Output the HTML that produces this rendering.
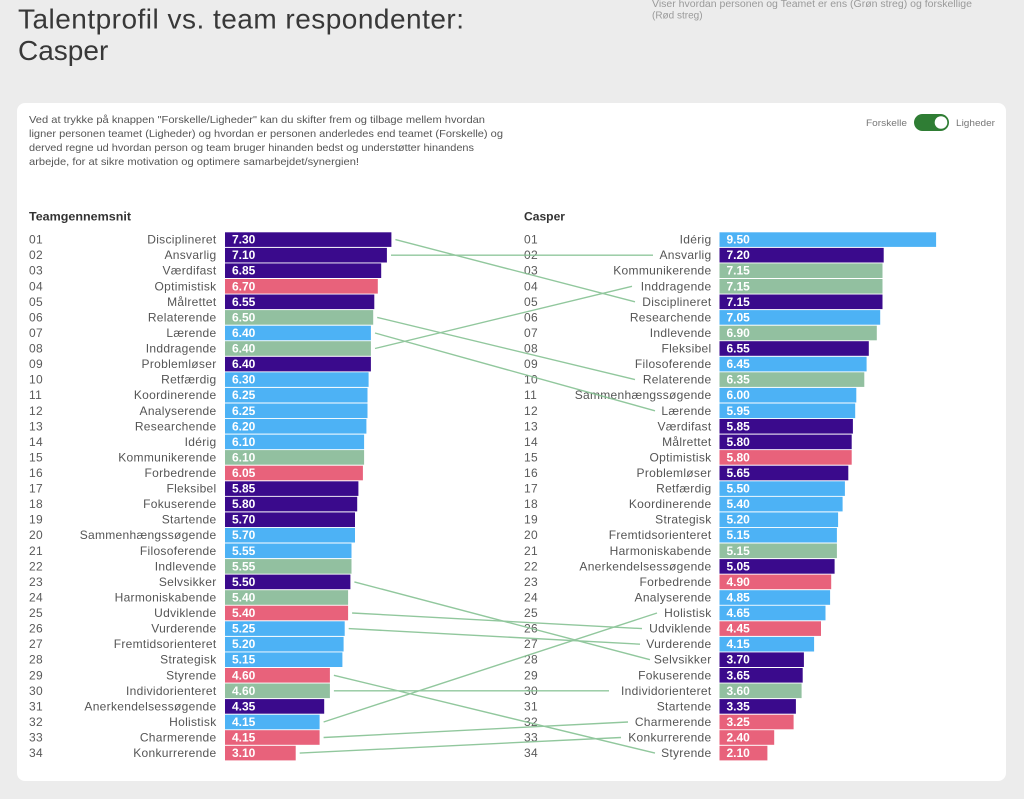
<!DOCTYPE html>
<html><head><meta charset="utf-8"><style>
html,body{margin:0;padding:0;background:#ececec;}
svg{display:block;}
text{font-family:"Liberation Sans","DejaVu Sans",sans-serif;}
.n{font-size:12px;fill:#5a5a5a;letter-spacing:0.3px;}
.l{font-size:12px;fill:#555;text-anchor:end;letter-spacing:0.3px;}
.v{font-size:12px;fill:#fff;font-weight:bold;}
.p{fill:#3a0a8c;}
.r{fill:#e8627b;}
.g{fill:#92c0a0;}
.b{fill:#4db2f5;}
.ln{stroke:#86c293;stroke-width:1.4;fill:none;opacity:0.9;}
</style></head><body>
<svg width="1024" height="799" viewBox="0 0 1024 799" xmlns="http://www.w3.org/2000/svg">
<rect x="0" y="0" width="1024" height="799" fill="#ececec"/>
<text x="18" y="28.5" font-size="28" fill="#383838" textLength="446" lengthAdjust="spacing">Talentprofil vs. team respondenter:</text>
<text x="18" y="60" font-size="28" fill="#383838">Casper</text>
<text x="652" y="7" font-size="10" fill="#9a9a9a" textLength="320" lengthAdjust="spacingAndGlyphs">Viser hvordan personen og Teamet er ens (Grøn streg) og forskellige</text>
<text x="652" y="18.5" font-size="10" fill="#9a9a9a">(Rød streg)</text>
<rect x="17" y="103" width="989" height="678" rx="8" fill="#fff"/>
<g font-size="10.5" fill="#555">
<text x="29" y="123" textLength="456" lengthAdjust="spacingAndGlyphs">Ved at trykke på knappen "Forskelle/Ligheder" kan du skifter frem og tilbage mellem hvordan</text>
<text x="29" y="137" textLength="474" lengthAdjust="spacingAndGlyphs">ligner personen teamet (Ligheder) og hvordan er personen anderledes end teamet (Forskelle) og</text>
<text x="29" y="151" textLength="445" lengthAdjust="spacingAndGlyphs">derved regne ud hvordan person og team bruger hinanden bedst og understøtter hinandens</text>
<text x="29" y="165" textLength="330" lengthAdjust="spacingAndGlyphs">arbejde, for at sikre motivation og optimere samarbejdet/synergien!</text>
</g>
<text x="866" y="126" font-size="9.5" fill="#777" textLength="41" lengthAdjust="spacingAndGlyphs">Forskelle</text>
<rect x="914" y="114" width="35" height="17" rx="8.5" fill="#2f7d34"/>
<circle cx="941" cy="122.5" r="6.3" fill="#fff"/>
<text x="956" y="126" font-size="9.5" fill="#777" textLength="39" lengthAdjust="spacingAndGlyphs">Ligheder</text>
<text x="29" y="220.5" font-size="11.5" font-weight="bold" fill="#333" textLength="102" lengthAdjust="spacingAndGlyphs">Teamgennemsnit</text>
<text x="524" y="220.5" font-size="11.5" font-weight="bold" fill="#333" textLength="41" lengthAdjust="spacingAndGlyphs">Casper</text>

<g transform="translate(0,232.3)"><text class="n" x="29" y="11.3">01</text><text class="l" x="216.5" y="11.3">Disciplineret</text><rect class="p" x="225" width="166.4" height="14.6"/><text class="v" x="232" y="11.3">7.30</text><text class="n" x="524" y="11.3">01</text><text class="l" x="711.5" y="11.3">Idérig</text><rect class="b" x="719.5" width="216.6" height="14.6"/><text class="v" x="726.5" y="11.3">9.50</text></g>
<g transform="translate(0,247.9)"><text class="n" x="29" y="11.3">02</text><text class="l" x="216.5" y="11.3">Ansvarlig</text><rect class="p" x="225" width="161.9" height="14.6"/><text class="v" x="232" y="11.3">7.10</text><text class="n" x="524" y="11.3">02</text><text class="l" x="711.5" y="11.3">Ansvarlig</text><rect class="p" x="719.5" width="164.2" height="14.6"/><text class="v" x="726.5" y="11.3">7.20</text></g>
<g transform="translate(0,263.4)"><text class="n" x="29" y="11.3">03</text><text class="l" x="216.5" y="11.3">Værdifast</text><rect class="p" x="225" width="156.2" height="14.6"/><text class="v" x="232" y="11.3">6.85</text><text class="n" x="524" y="11.3">03</text><text class="l" x="711.5" y="11.3">Kommunikerende</text><rect class="g" x="719.5" width="163.0" height="14.6"/><text class="v" x="726.5" y="11.3">7.15</text></g>
<g transform="translate(0,279.0)"><text class="n" x="29" y="11.3">04</text><text class="l" x="216.5" y="11.3">Optimistisk</text><rect class="r" x="225" width="152.8" height="14.6"/><text class="v" x="232" y="11.3">6.70</text><text class="n" x="524" y="11.3">04</text><text class="l" x="711.5" y="11.3">Inddragende</text><rect class="g" x="719.5" width="163.0" height="14.6"/><text class="v" x="726.5" y="11.3">7.15</text></g>
<g transform="translate(0,294.5)"><text class="n" x="29" y="11.3">05</text><text class="l" x="216.5" y="11.3">Målrettet</text><rect class="p" x="225" width="149.3" height="14.6"/><text class="v" x="232" y="11.3">6.55</text><text class="n" x="524" y="11.3">05</text><text class="l" x="711.5" y="11.3">Disciplineret</text><rect class="p" x="719.5" width="163.0" height="14.6"/><text class="v" x="726.5" y="11.3">7.15</text></g>
<g transform="translate(0,310.1)"><text class="n" x="29" y="11.3">06</text><text class="l" x="216.5" y="11.3">Relaterende</text><rect class="g" x="225" width="148.2" height="14.6"/><text class="v" x="232" y="11.3">6.50</text><text class="n" x="524" y="11.3">06</text><text class="l" x="711.5" y="11.3">Researchende</text><rect class="b" x="719.5" width="160.7" height="14.6"/><text class="v" x="726.5" y="11.3">7.05</text></g>
<g transform="translate(0,325.7)"><text class="n" x="29" y="11.3">07</text><text class="l" x="216.5" y="11.3">Lærende</text><rect class="b" x="225" width="145.9" height="14.6"/><text class="v" x="232" y="11.3">6.40</text><text class="n" x="524" y="11.3">07</text><text class="l" x="711.5" y="11.3">Indlevende</text><rect class="g" x="719.5" width="157.3" height="14.6"/><text class="v" x="726.5" y="11.3">6.90</text></g>
<g transform="translate(0,341.2)"><text class="n" x="29" y="11.3">08</text><text class="l" x="216.5" y="11.3">Inddragende</text><rect class="g" x="225" width="145.9" height="14.6"/><text class="v" x="232" y="11.3">6.40</text><text class="n" x="524" y="11.3">08</text><text class="l" x="711.5" y="11.3">Fleksibel</text><rect class="p" x="719.5" width="149.3" height="14.6"/><text class="v" x="726.5" y="11.3">6.55</text></g>
<g transform="translate(0,356.8)"><text class="n" x="29" y="11.3">09</text><text class="l" x="216.5" y="11.3">Problemløser</text><rect class="p" x="225" width="145.9" height="14.6"/><text class="v" x="232" y="11.3">6.40</text><text class="n" x="524" y="11.3">09</text><text class="l" x="711.5" y="11.3">Filosoferende</text><rect class="b" x="719.5" width="147.1" height="14.6"/><text class="v" x="726.5" y="11.3">6.45</text></g>
<g transform="translate(0,372.3)"><text class="n" x="29" y="11.3">10</text><text class="l" x="216.5" y="11.3">Retfærdig</text><rect class="b" x="225" width="143.6" height="14.6"/><text class="v" x="232" y="11.3">6.30</text><text class="n" x="524" y="11.3">10</text><text class="l" x="711.5" y="11.3">Relaterende</text><rect class="g" x="719.5" width="144.8" height="14.6"/><text class="v" x="726.5" y="11.3">6.35</text></g>
<g transform="translate(0,387.9)"><text class="n" x="29" y="11.3">11</text><text class="l" x="216.5" y="11.3">Koordinerende</text><rect class="b" x="225" width="142.5" height="14.6"/><text class="v" x="232" y="11.3">6.25</text><text class="n" x="524" y="11.3">11</text><text class="l" x="711.5" y="11.3">Sammenhængssøgende</text><rect class="b" x="719.5" width="136.8" height="14.6"/><text class="v" x="726.5" y="11.3">6.00</text></g>
<g transform="translate(0,403.5)"><text class="n" x="29" y="11.3">12</text><text class="l" x="216.5" y="11.3">Analyserende</text><rect class="b" x="225" width="142.5" height="14.6"/><text class="v" x="232" y="11.3">6.25</text><text class="n" x="524" y="11.3">12</text><text class="l" x="711.5" y="11.3">Lærende</text><rect class="b" x="719.5" width="135.7" height="14.6"/><text class="v" x="726.5" y="11.3">5.95</text></g>
<g transform="translate(0,419.0)"><text class="n" x="29" y="11.3">13</text><text class="l" x="216.5" y="11.3">Researchende</text><rect class="b" x="225" width="141.4" height="14.6"/><text class="v" x="232" y="11.3">6.20</text><text class="n" x="524" y="11.3">13</text><text class="l" x="711.5" y="11.3">Værdifast</text><rect class="p" x="719.5" width="133.4" height="14.6"/><text class="v" x="726.5" y="11.3">5.85</text></g>
<g transform="translate(0,434.6)"><text class="n" x="29" y="11.3">14</text><text class="l" x="216.5" y="11.3">Idérig</text><rect class="b" x="225" width="139.1" height="14.6"/><text class="v" x="232" y="11.3">6.10</text><text class="n" x="524" y="11.3">14</text><text class="l" x="711.5" y="11.3">Målrettet</text><rect class="p" x="719.5" width="132.2" height="14.6"/><text class="v" x="726.5" y="11.3">5.80</text></g>
<g transform="translate(0,450.1)"><text class="n" x="29" y="11.3">15</text><text class="l" x="216.5" y="11.3">Kommunikerende</text><rect class="g" x="225" width="139.1" height="14.6"/><text class="v" x="232" y="11.3">6.10</text><text class="n" x="524" y="11.3">15</text><text class="l" x="711.5" y="11.3">Optimistisk</text><rect class="r" x="719.5" width="132.2" height="14.6"/><text class="v" x="726.5" y="11.3">5.80</text></g>
<g transform="translate(0,465.7)"><text class="n" x="29" y="11.3">16</text><text class="l" x="216.5" y="11.3">Forbedrende</text><rect class="r" x="225" width="137.9" height="14.6"/><text class="v" x="232" y="11.3">6.05</text><text class="n" x="524" y="11.3">16</text><text class="l" x="711.5" y="11.3">Problemløser</text><rect class="p" x="719.5" width="128.8" height="14.6"/><text class="v" x="726.5" y="11.3">5.65</text></g>
<g transform="translate(0,481.3)"><text class="n" x="29" y="11.3">17</text><text class="l" x="216.5" y="11.3">Fleksibel</text><rect class="p" x="225" width="133.4" height="14.6"/><text class="v" x="232" y="11.3">5.85</text><text class="n" x="524" y="11.3">17</text><text class="l" x="711.5" y="11.3">Retfærdig</text><rect class="b" x="719.5" width="125.4" height="14.6"/><text class="v" x="726.5" y="11.3">5.50</text></g>
<g transform="translate(0,496.8)"><text class="n" x="29" y="11.3">18</text><text class="l" x="216.5" y="11.3">Fokuserende</text><rect class="p" x="225" width="132.2" height="14.6"/><text class="v" x="232" y="11.3">5.80</text><text class="n" x="524" y="11.3">18</text><text class="l" x="711.5" y="11.3">Koordinerende</text><rect class="b" x="719.5" width="123.1" height="14.6"/><text class="v" x="726.5" y="11.3">5.40</text></g>
<g transform="translate(0,512.4)"><text class="n" x="29" y="11.3">19</text><text class="l" x="216.5" y="11.3">Startende</text><rect class="p" x="225" width="130.0" height="14.6"/><text class="v" x="232" y="11.3">5.70</text><text class="n" x="524" y="11.3">19</text><text class="l" x="711.5" y="11.3">Strategisk</text><rect class="b" x="719.5" width="118.6" height="14.6"/><text class="v" x="726.5" y="11.3">5.20</text></g>
<g transform="translate(0,527.9)"><text class="n" x="29" y="11.3">20</text><text class="l" x="216.5" y="11.3">Sammenhængssøgende</text><rect class="b" x="225" width="130.0" height="14.6"/><text class="v" x="232" y="11.3">5.70</text><text class="n" x="524" y="11.3">20</text><text class="l" x="711.5" y="11.3">Fremtidsorienteret</text><rect class="b" x="719.5" width="117.4" height="14.6"/><text class="v" x="726.5" y="11.3">5.15</text></g>
<g transform="translate(0,543.5)"><text class="n" x="29" y="11.3">21</text><text class="l" x="216.5" y="11.3">Filosoferende</text><rect class="b" x="225" width="126.5" height="14.6"/><text class="v" x="232" y="11.3">5.55</text><text class="n" x="524" y="11.3">21</text><text class="l" x="711.5" y="11.3">Harmoniskabende</text><rect class="g" x="719.5" width="117.4" height="14.6"/><text class="v" x="726.5" y="11.3">5.15</text></g>
<g transform="translate(0,559.1)"><text class="n" x="29" y="11.3">22</text><text class="l" x="216.5" y="11.3">Indlevende</text><rect class="g" x="225" width="126.5" height="14.6"/><text class="v" x="232" y="11.3">5.55</text><text class="n" x="524" y="11.3">22</text><text class="l" x="711.5" y="11.3">Anerkendelsessøgende</text><rect class="p" x="719.5" width="115.1" height="14.6"/><text class="v" x="726.5" y="11.3">5.05</text></g>
<g transform="translate(0,574.6)"><text class="n" x="29" y="11.3">23</text><text class="l" x="216.5" y="11.3">Selvsikker</text><rect class="p" x="225" width="125.4" height="14.6"/><text class="v" x="232" y="11.3">5.50</text><text class="n" x="524" y="11.3">23</text><text class="l" x="711.5" y="11.3">Forbedrende</text><rect class="r" x="719.5" width="111.7" height="14.6"/><text class="v" x="726.5" y="11.3">4.90</text></g>
<g transform="translate(0,590.2)"><text class="n" x="29" y="11.3">24</text><text class="l" x="216.5" y="11.3">Harmoniskabende</text><rect class="g" x="225" width="123.1" height="14.6"/><text class="v" x="232" y="11.3">5.40</text><text class="n" x="524" y="11.3">24</text><text class="l" x="711.5" y="11.3">Analyserende</text><rect class="b" x="719.5" width="110.6" height="14.6"/><text class="v" x="726.5" y="11.3">4.85</text></g>
<g transform="translate(0,605.7)"><text class="n" x="29" y="11.3">25</text><text class="l" x="216.5" y="11.3">Udviklende</text><rect class="r" x="225" width="123.1" height="14.6"/><text class="v" x="232" y="11.3">5.40</text><text class="n" x="524" y="11.3">25</text><text class="l" x="711.5" y="11.3">Holistisk</text><rect class="b" x="719.5" width="106.0" height="14.6"/><text class="v" x="726.5" y="11.3">4.65</text></g>
<g transform="translate(0,621.3)"><text class="n" x="29" y="11.3">26</text><text class="l" x="216.5" y="11.3">Vurderende</text><rect class="b" x="225" width="119.7" height="14.6"/><text class="v" x="232" y="11.3">5.25</text><text class="n" x="524" y="11.3">26</text><text class="l" x="711.5" y="11.3">Udviklende</text><rect class="r" x="719.5" width="101.5" height="14.6"/><text class="v" x="726.5" y="11.3">4.45</text></g>
<g transform="translate(0,636.9)"><text class="n" x="29" y="11.3">27</text><text class="l" x="216.5" y="11.3">Fremtidsorienteret</text><rect class="b" x="225" width="118.6" height="14.6"/><text class="v" x="232" y="11.3">5.20</text><text class="n" x="524" y="11.3">27</text><text class="l" x="711.5" y="11.3">Vurderende</text><rect class="b" x="719.5" width="94.6" height="14.6"/><text class="v" x="726.5" y="11.3">4.15</text></g>
<g transform="translate(0,652.4)"><text class="n" x="29" y="11.3">28</text><text class="l" x="216.5" y="11.3">Strategisk</text><rect class="b" x="225" width="117.4" height="14.6"/><text class="v" x="232" y="11.3">5.15</text><text class="n" x="524" y="11.3">28</text><text class="l" x="711.5" y="11.3">Selvsikker</text><rect class="p" x="719.5" width="84.4" height="14.6"/><text class="v" x="726.5" y="11.3">3.70</text></g>
<g transform="translate(0,668.0)"><text class="n" x="29" y="11.3">29</text><text class="l" x="216.5" y="11.3">Styrende</text><rect class="r" x="225" width="104.9" height="14.6"/><text class="v" x="232" y="11.3">4.60</text><text class="n" x="524" y="11.3">29</text><text class="l" x="711.5" y="11.3">Fokuserende</text><rect class="p" x="719.5" width="83.2" height="14.6"/><text class="v" x="726.5" y="11.3">3.65</text></g>
<g transform="translate(0,683.5)"><text class="n" x="29" y="11.3">30</text><text class="l" x="216.5" y="11.3">Individorienteret</text><rect class="g" x="225" width="104.9" height="14.6"/><text class="v" x="232" y="11.3">4.60</text><text class="n" x="524" y="11.3">30</text><text class="l" x="711.5" y="11.3">Individorienteret</text><rect class="g" x="719.5" width="82.1" height="14.6"/><text class="v" x="726.5" y="11.3">3.60</text></g>
<g transform="translate(0,699.1)"><text class="n" x="29" y="11.3">31</text><text class="l" x="216.5" y="11.3">Anerkendelsessøgende</text><rect class="p" x="225" width="99.2" height="14.6"/><text class="v" x="232" y="11.3">4.35</text><text class="n" x="524" y="11.3">31</text><text class="l" x="711.5" y="11.3">Startende</text><rect class="p" x="719.5" width="76.4" height="14.6"/><text class="v" x="726.5" y="11.3">3.35</text></g>
<g transform="translate(0,714.7)"><text class="n" x="29" y="11.3">32</text><text class="l" x="216.5" y="11.3">Holistisk</text><rect class="b" x="225" width="94.6" height="14.6"/><text class="v" x="232" y="11.3">4.15</text><text class="n" x="524" y="11.3">32</text><text class="l" x="711.5" y="11.3">Charmerende</text><rect class="r" x="719.5" width="74.1" height="14.6"/><text class="v" x="726.5" y="11.3">3.25</text></g>
<g transform="translate(0,730.2)"><text class="n" x="29" y="11.3">33</text><text class="l" x="216.5" y="11.3">Charmerende</text><rect class="r" x="225" width="94.6" height="14.6"/><text class="v" x="232" y="11.3">4.15</text><text class="n" x="524" y="11.3">33</text><text class="l" x="711.5" y="11.3">Konkurrerende</text><rect class="r" x="719.5" width="54.7" height="14.6"/><text class="v" x="726.5" y="11.3">2.40</text></g>
<g transform="translate(0,745.8)"><text class="n" x="29" y="11.3">34</text><text class="l" x="216.5" y="11.3">Konkurrerende</text><rect class="r" x="225" width="70.7" height="14.6"/><text class="v" x="232" y="11.3">3.10</text><text class="n" x="524" y="11.3">34</text><text class="l" x="711.5" y="11.3">Styrende</text><rect class="r" x="719.5" width="47.9" height="14.6"/><text class="v" x="726.5" y="11.3">2.10</text></g>

<g class="ln">
<line x1="395.4" y1="239.6" x2="635" y2="301.8"/>
<line x1="391" y1="255.2" x2="653" y2="255.2"/>
<line x1="377.2" y1="317.4" x2="635" y2="379.6"/>
<line x1="375" y1="333.0" x2="655" y2="410.8"/>
<line x1="375" y1="348.5" x2="632" y2="286.3"/>
<line x1="354.4" y1="581.9" x2="650" y2="659.7"/>
<line x1="352.1" y1="613.0" x2="642" y2="628.6"/>
<line x1="348.7" y1="628.6" x2="640" y2="644.2"/>
<line x1="333.9" y1="675.3" x2="655" y2="753.1"/>
<line x1="333.9" y1="690.8" x2="609" y2="690.8"/>
<line x1="323.6" y1="722.0" x2="657" y2="613.0"/>
<line x1="323.6" y1="737.5" x2="628" y2="722.0"/>
<line x1="299.7" y1="753.1" x2="621" y2="737.5"/>
</g>
</svg>
</body></html>
